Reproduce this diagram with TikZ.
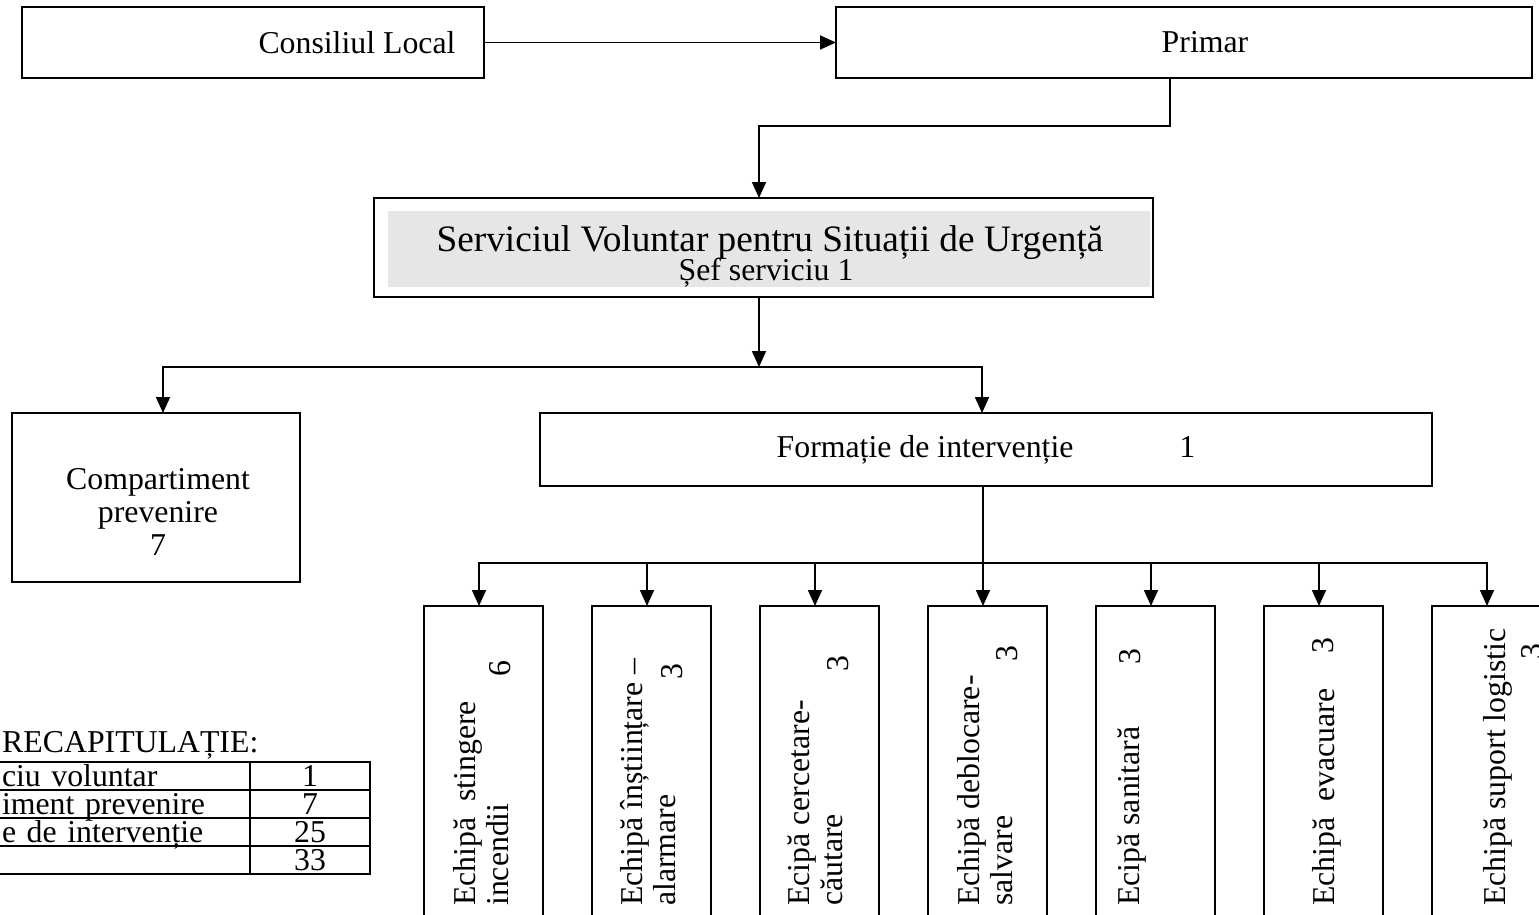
\documentclass[tikz,border=0pt]{standalone}
\usepackage{fontspec}
\setmainfont{Liberation Serif}
\usetikzlibrary{positioning,arrows.meta}
\definecolor{shade}{HTML}{E6E6E6}
\tikzstyle{box} = [draw, rectangle, line width=1.8pt, inner sep=0pt, outer sep=0pt]
\tikzstyle{team} = [box, minimum width=119pt, minimum height=340pt]
\tikzstyle{vtext} = [rotate=90, anchor=north west, inner sep=0pt, align=left]
\tikzstyle{nr} = [rotate=90, anchor=base east, inner sep=0pt]
\tikzstyle{cell} = [box, minimum height=28pt, inner ysep=0pt, text height=24pt, text depth=4pt]
\tikzstyle{cellL} = [cell, minimum width=260pt, text width=236pt, inner xsep=12pt, align=left]
\tikzstyle{cellR} = [cell, minimum width=120pt]
\tikzstyle{wire} = [line width=1.8pt, line cap=rect]
\tikzstyle{arr} = [wire, -{Triangle[length=16pt,width=14pt]}]

\begin{document}
\begin{tikzpicture}[x=1pt, y=-1pt, font=\fontsize{31.8}{33}\selectfont]
		\useasboundingbox (0,0) rectangle (1539,915);
		\clip (0,0) rectangle (1539,915);

		% top row
		\node[box, minimum width=462pt, minimum height=71pt] (cons) at (253,42.5) {\hspace*{208pt}Consiliul Local};
		\node[box, minimum width=696pt, minimum height=71pt] (prim) at (1184,42.5) {\hspace*{42pt}Primar};

		% service
		\node[box, minimum width=779pt, minimum height=99pt] (serv) at (763.5,247.5) {};
		\node[fill=shade, minimum width=762pt, minimum height=76pt, inner sep=0pt] (servbg) at (769,249) {};
		\node[anchor=base, inner sep=0pt, font=\fontsize{37.3}{40}\selectfont] (servname) at (770,251) {Serviciul Voluntar pentru Situații de Urgență};
		\node[anchor=base, inner sep=0pt] (servchief) at (766,280) {Șef serviciu 1};

		% second level
		\node[box, minimum width=288pt, minimum height=169pt] (comp) at (156,497.5) {};
		\node[align=center, inner sep=0pt] (compname) at (158,512) {Compartiment\\prevenire\\7};
		\node[box, minimum width=892pt, minimum height=73pt] (form) at (986,449.5) {Formație de intervenție\hspace{106pt}1};

		% teams
		\node[team, anchor=north west] (t1) at (424,606) {};
		\node[team, right=49pt of t1] (t2) {};
		\node[team, right=49pt of t2] (t3) {};
		\node[team, right=49pt of t3] (t4) {};
		\node[team, right=49pt of t4] (t5) {};
		\node[team, right=49pt of t5] (t6) {};
		\node[team, right=49pt of t6] (t7) {};
		\foreach \i in {1,...,7}
			\node[coordinate, right=55pt of t\i.north west] (pin\i) {};

		% team labels
		\node[vtext] (t1text) at (453,906) {Echipă~ stingere\\incendii};
		\node[vtext] (t2text) at (620,906) {Echipă înștiințare –\\alarmare};
		\node[vtext] (t3text) at (788,906) {Ecipă cercetare-\\căutare};
		\node[vtext] (t4text) at (957,906) {Echipă deblocare-\\salvare};
		\node[vtext] (t5text) at (1118,906) {Ecipă sanitară};
		\node[vtext] (t6text) at (1312,906) {Echipă~ evacuare};
		\node[vtext] (t7text) at (1483,906) {Echipă suport logistic};
		\node[nr] (t1nr) at (510,660) {6};
		\node[nr] (t2nr) at (682,663) {3};
		\node[nr] (t3nr) at (848,655) {3};
		\node[nr] (t4nr) at (1017,645) {3};
		\node[nr] (t5nr) at (1140,648) {3};
		\node[nr] (t6nr) at (1333,637) {3};
		\node[nr] (t7nr) at (1542,643) {3};

		% table
		\node[anchor=west, inner sep=0pt] (recap) at (2,745) {RECAPITULAȚIE:};
		\node[cellL] (row1) at (120,776) {ciu voluntar};
		\node[cellL, below=0pt of row1] (row2) {iment prevenire};
		\node[cellL, below=0pt of row2] (row3) {e de intervenție};
		\node[cellL, below=0pt of row3] (row4) {};
		\node[cellR, right=0pt of row1] (sum1) {1};
		\node[cellR, right=0pt of row2] (sum2) {7};
		\node[cellR, right=0pt of row3] (sum3) {25};
		\node[cellR, right=0pt of row4] (sum4) {33};

		% bends
		\node[coordinate] (pbend) at (1170,126) {};
		\node[coordinate] (sbend) at (759,126) {};
		\node[coordinate] (busL) at (163,367) {};
		\node[coordinate] (busR) at (982,367) {};
		\node[coordinate] (teambus) at (982,563) {};

		% connectors
		\draw[arr] (cons.east) -- (prim.west);
		\draw[arr] (prim.south -| pbend) -- (pbend) -- (sbend) -- (serv.north -| sbend);
		\draw[arr] (serv.south -| sbend) -- (sbend |- busL);
		\draw[wire] (busL) -- (busR);
		\draw[arr] (busL) -- (comp.north -| busL);
		\draw[arr] (busR) -- (form.north -| busR);
		\draw[wire] (form.south -| pin4) -- (pin4 |- teambus);
		\draw[wire] (pin1 |- teambus) -- (pin7 |- teambus);
		\foreach \i in {1,...,7}
			\draw[arr] (pin\i |- teambus) -- (pin\i);
\end{tikzpicture}
\end{document}
